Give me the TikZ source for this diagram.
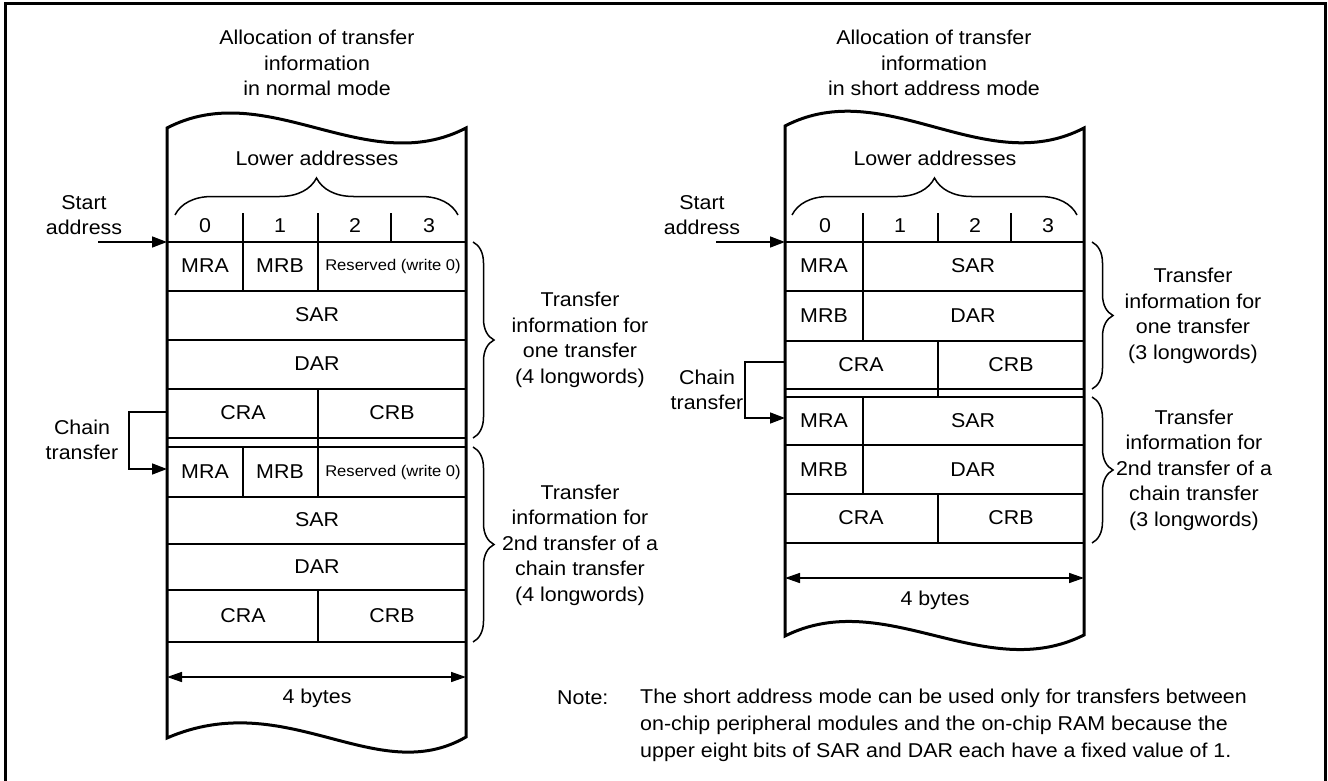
\documentclass[tikz,border=0pt]{standalone}
\usepackage{fontspec}
\setmainfont{Liberation Sans}[FakeStretch=1.07]
\usetikzlibrary{arrows.meta,decorations.pathreplacing}
\begin{document}
\begin{tikzpicture}[x=1pt,y=-1pt,
  txt/.style={font=\fontsize{20}{25.5}\selectfont,align=center,inner sep=0pt},
  smalltxt/.style={font=\fontsize{15.5}{20}\selectfont,inner sep=0pt},
  boxedge/.style={line width=3pt},
  rowline/.style={line width=2.4pt},
  conn/.style={line width=1.5pt,-{Triangle[length=15pt,width=11pt]}},
  dimline/.style={line width=1.5pt,{Triangle[length=15pt,width=10pt]}-{Triangle[length=15pt,width=10pt]}},
  brc/.style={line width=1.5pt,decorate,decoration={brace,amplitude=#1}},
]
\useasboundingbox (0,0) rectangle (1328,781);
\draw[line width=3pt] (5,790) -- (5,4) -- (1325,4) -- (1325,790);

% ================= LEFT: normal mode =================
\node[txt] (ltitle) at (317,63) {Allocation of transfer\\information\\in normal mode};
\draw[boxedge] (167,738) -- (167,128) .. controls (267,76) and (366,180) .. (466,128)
  -- (466,737) .. controls (376,789) and (287,686) .. (167,738) -- cycle;
\node[txt] (llower) at (317,158) {Lower addresses};
\draw[brc=37] (175,215) -- (458,215);
\foreach \x in {243,318,391} \draw[rowline] (\x,213) -- (\x,242);
\node[txt] (ld0) at (205,226) {0};
\node[txt] (ld1) at (280,226) {1};
\node[txt] (ld2) at (355,226) {2};
\node[txt] (ld3) at (429,226) {3};
\foreach \y in {242,291,340,389,438,447,497,544,590,642} \draw[rowline] (167,\y) -- (466,\y);
\draw[rowline] (243,242) -- (243,291);
\draw[rowline] (318,242) -- (318,291);
\draw[rowline] (318,389) -- (318,447);
\draw[rowline] (243,447) -- (243,497);
\draw[rowline] (318,447) -- (318,497);
\draw[rowline] (318,590) -- (318,642);
\node[txt] (lmra1) at (205,266) {MRA};
\node[txt] (lmrb1) at (280,266) {MRB};
\node[smalltxt] (lres1) at (393,266) {Reserved (write 0)};
\node[txt] (lsar1) at (317,315) {SAR};
\node[txt] (ldar1) at (317,364) {DAR};
\node[txt] (lcra1) at (243,413) {CRA};
\node[txt] (lcrb1) at (392,413) {CRB};
\node[txt] (lmra2) at (205,472) {MRA};
\node[txt] (lmrb2) at (280,472) {MRB};
\node[smalltxt] (lres2) at (393,472) {Reserved (write 0)};
\node[txt] (lsar2) at (317,520) {SAR};
\node[txt] (ldar2) at (317,567) {DAR};
\node[txt] (lcra2) at (243,616) {CRA};
\node[txt] (lcrb2) at (392,616) {CRB};
\coordinate (ldimL) at (167,677);
\coordinate (ldimR) at (466,677);
\draw[dimline] (ldimL) -- (ldimR);
\node[txt] (lbytes) at (317,698) {4 bytes};
% start address
\node[txt] (lstart) at (84,215) {Start\\address};
\coordinate (lsaFrom) at (98,242);
\coordinate (lsaTo) at (167,242);
\draw[conn] (lsaFrom) -- (lsaTo);
% chain transfer
\node[txt] (lchain) at (82,440) {Chain\\transfer};
\coordinate (lchFrom) at (167,412);
\coordinate (lchTo) at (167,469);
\draw[conn] (lchFrom) -- (129,412) -- (129,469) -- (lchTo);
% braces
\draw[brc=21] (473,242) -- (473,438);
\node[txt] (linfo1) at (580,340) {Transfer\\information for\\one transfer\\(4 longwords)};
\draw[brc=21] (473,447) -- (473,642);
\node[txt] (linfo2) at (580,545) {Transfer\\information for\\2nd transfer of a\\chain transfer\\(4 longwords)};

% ================= RIGHT: short address mode =================
\node[txt] (rtitle) at (934,63) {Allocation of transfer\\information\\in short address mode};
\draw[boxedge] (785,636) -- (785,126) .. controls (885,74) and (984,180) .. (1084,128)
  -- (1084,635) .. controls (984,685) and (885,586) .. (785,636) -- cycle;
\node[txt] (rlower) at (935,158) {Lower addresses};
\draw[brc=37] (792,215) -- (1077,215);
\foreach \x in {863,938,1011} \draw[rowline] (\x,213) -- (\x,242);
\node[txt] (rd0) at (825,226) {0};
\node[txt] (rd1) at (900,226) {1};
\node[txt] (rd2) at (975,226) {2};
\node[txt] (rd3) at (1048,226) {3};
\foreach \y in {242,291,341,389,397,445,494,543} \draw[rowline] (785,\y) -- (1084,\y);
\draw[rowline] (863,242) -- (863,341);
\draw[rowline] (938,341) -- (938,397);
\draw[rowline] (863,397) -- (863,494);
\draw[rowline] (938,494) -- (938,543);
\node[txt] (rmra1) at (824,266) {MRA};
\node[txt] (rsar1) at (973,266) {SAR};
\node[txt] (rmrb1) at (824,316) {MRB};
\node[txt] (rdar1) at (973,316) {DAR};
\node[txt] (rcra1) at (861,365) {CRA};
\node[txt] (rcrb1) at (1011,365) {CRB};
\node[txt] (rmra2) at (824,421) {MRA};
\node[txt] (rsar2) at (973,421) {SAR};
\node[txt] (rmrb2) at (824,470) {MRB};
\node[txt] (rdar2) at (973,470) {DAR};
\node[txt] (rcra2) at (861,518) {CRA};
\node[txt] (rcrb2) at (1011,518) {CRB};
\coordinate (rdimL) at (785,578);
\coordinate (rdimR) at (1084,578);
\draw[dimline] (rdimL) -- (rdimR);
\node[txt] (rbytes) at (935,600) {4 bytes};
% start address
\node[txt] (rstart) at (702,215) {Start\\address};
\coordinate (rsaFrom) at (716,242);
\coordinate (rsaTo) at (785,242);
\draw[conn] (rsaFrom) -- (rsaTo);
% chain transfer
\node[txt] (rchain) at (707,390) {Chain\\transfer};
\coordinate (rchFrom) at (785,362);
\coordinate (rchTo) at (785,418);
\draw[conn] (rchFrom) -- (745,362) -- (745,418) -- (rchTo);
% braces
\draw[brc=21] (1092,242) -- (1092,389);
\node[txt] (rinfo1) at (1193,316) {Transfer\\information for\\one transfer\\(3 longwords)};
\draw[brc=21] (1092,397) -- (1092,543);
\node[txt] (rinfo2) at (1194,470) {Transfer\\information for\\2nd transfer of a\\chain transfer\\(3 longwords)};

% ================= NOTE =================
\node[txt,anchor=west] (notelbl) at (557,698) {Note:};
\node[font=\fontsize{20}{27}\selectfont,align=left,inner sep=0pt,anchor=west] (notetxt) at (640,725)
  {The short address mode can be used only for transfers between\\on-chip peripheral modules and the on-chip RAM because the\\upper eight bits of SAR and DAR each have a fixed value of 1.};
\end{tikzpicture}
\end{document}
